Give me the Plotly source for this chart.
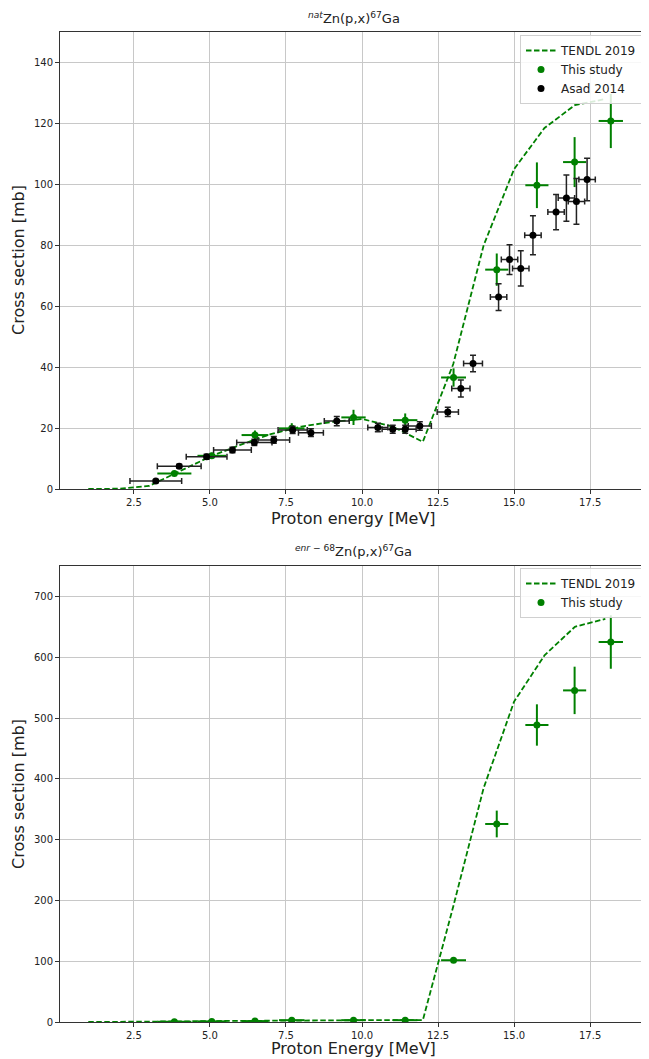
import plotly.graph_objects as go

# ---------------- data ----------------
tendl_E = [1, 2, 3, 4, 5, 6, 7, 8, 9, 10, 11, 12, 13, 14, 15, 16, 17, 18]
tendl_nat = [0, 0.1, 1.0, 5.8, 10.6, 14.5, 18.0, 20.5, 22.0, 23.0, 20.5, 15.5, 41.0, 80.0, 105.0, 118.5, 126.0, 128.0]
tendl_enr = [0, 0, 0.5, 1.0, 1.5, 2.0, 2.5, 3.0, 3.0, 3.0, 3.0, 3.0, 190.0, 385.0, 527.0, 603.0, 650.0, 663.0]

study_E = [3.83, 5.06, 6.48, 7.69, 9.72, 11.42, 13.01, 14.43, 15.75, 16.99, 18.18]
study_Eerr = [0.56, 0.47, 0.44, 0.42, 0.40, 0.40, 0.41, 0.38, 0.38, 0.38, 0.40]
study_nat = [5.1, 10.9, 17.7, 19.9, 23.5, 22.6, 36.6, 72.0, 99.7, 107.3, 120.8]
study_nat_err = [0.6, 1.0, 1.5, 1.7, 2.5, 2.2, 3.0, 5.3, 7.5, 8.2, 8.9]
study_enr = [0.5, 1.0, 1.5, 3.0, 3.0, 3.0, 101.6, 325.7, 488.5, 545.4, 625.0]
study_enr_err = [0.2, 0.4, 0.5, 0.8, 1.0, 1.0, 4.0, 22.0, 34.0, 39.0, 44.0]

asad_E = [3.22, 3.99, 4.89, 5.74, 6.46, 7.10, 7.72, 8.32, 9.17, 10.52, 11.01, 11.42, 11.90,
          12.82, 13.25, 13.65, 14.49, 14.85, 15.22, 15.62, 16.38, 16.72, 17.05, 17.40]
asad_Eerr = [0.85, 0.72, 0.67, 0.62, 0.58, 0.52, 0.48, 0.41, 0.41, 0.33, 0.35, 0.36, 0.38,
             0.35, 0.30, 0.31, 0.27, 0.27, 0.27, 0.27, 0.27, 0.27, 0.27, 0.27]
asad_xs = [2.6, 7.5, 10.6, 12.8, 15.3, 16.1, 19.4, 18.5, 22.3, 20.2, 19.6, 19.6, 20.7,
           25.3, 33.0, 41.2, 63.0, 75.3, 72.4, 83.3, 90.9, 95.5, 94.4, 101.6]
asad_xs_err = [0.5, 0.6, 0.8, 0.9, 1.0, 1.1, 1.2, 1.3, 1.5, 1.4, 1.3, 1.3, 1.4,
               1.5, 2.8, 2.7, 4.4, 4.9, 5.8, 6.4, 5.8, 7.6, 7.5, 7.0]

x_ticks = [2.5, 5.0, 7.5, 10.0, 12.5, 15.0, 17.5]
y_ticks_nat = [0, 20, 40, 60, 80, 100, 120, 140]
y_ticks_enr = [0, 100, 200, 300, 400, 500, 600, 700]

GREEN = "#008000"
FONT = "DejaVu Sans"
DASH = "5.5px,2.5px"

fig = go.Figure()

# ---- top panel ----
fig.add_trace(go.Scatter(x=tendl_E, y=tendl_nat, mode="lines", name="TENDL 2019",
                         line=dict(color=GREEN, dash=DASH, width=1.8),
                         xaxis="x", yaxis="y", legend="legend"))
fig.add_trace(go.Scatter(x=study_E, y=study_nat, mode="markers", name="This study",
                         marker=dict(color=GREEN, size=7, symbol="circle"),
                         error_x=dict(type="data", array=study_Eerr, color=GREEN, thickness=2, width=0),
                         error_y=dict(type="data", array=study_nat_err, color=GREEN, thickness=2, width=0),
                         xaxis="x", yaxis="y", legend="legend"))
fig.add_trace(go.Scatter(x=asad_E, y=asad_xs, mode="markers", name="Asad 2014",
                         marker=dict(color="black", size=7, symbol="circle"),
                         error_x=dict(type="data", array=asad_Eerr, color="#222222", thickness=1.5, width=3),
                         error_y=dict(type="data", array=asad_xs_err, color="#222222", thickness=1.5, width=3),
                         xaxis="x", yaxis="y", legend="legend"))

# ---- bottom panel ----
fig.add_trace(go.Scatter(x=tendl_E, y=tendl_enr, mode="lines", name="TENDL 2019",
                         line=dict(color=GREEN, dash=DASH, width=1.8),
                         xaxis="x2", yaxis="y2", legend="legend2"))
fig.add_trace(go.Scatter(x=study_E, y=study_enr, mode="markers", name="This study",
                         marker=dict(color=GREEN, size=7, symbol="circle"),
                         error_x=dict(type="data", array=study_Eerr, color=GREEN, thickness=2, width=0),
                         error_y=dict(type="data", array=study_enr_err, color=GREEN, thickness=2, width=0),
                         xaxis="x2", yaxis="y2", legend="legend2"))

# page offset (browser default body margin) compensation
OFF = 8
W, H = 649 - OFF, 1059 - OFF
def fx(px):
    return (px - OFF) / W
def fy(px):
    return 1 - (px - OFF) / H

xdom = [fx(60), fx(647)]
axis_common = dict(showgrid=True, gridcolor="#c8c8c8", gridwidth=1, automargin=False,
                   showline=True, linecolor="#333333", linewidth=1, mirror=True,
                   ticks="outside", ticklen=4, tickcolor="#333333",
                   tickfont=dict(family=FONT, size=10, color="#222222"), zeroline=False)

legend_common = dict(xanchor="right", yanchor="top",
                     bgcolor="rgba(255,255,255,0.85)", bordercolor="#d0d0d0", borderwidth=1,
                     font=dict(family=FONT, size=12, color="#222222"), tracegroupgap=0,
                     itemwidth=30)

fig.update_layout(
    width=W, height=H, autosize=False, margin=dict(l=0, r=0, t=0, b=0, autoexpand=False),
    paper_bgcolor="white", plot_bgcolor="white",
    font=dict(family=FONT, color="#222222"),
    xaxis=dict(domain=xdom, anchor="y", range=[0.07, 19.37], tickvals=x_ticks,
               tickformat=".1f", **axis_common),
    yaxis=dict(domain=[fy(489), fy(32)], anchor="x", range=[0, 150], tickvals=y_ticks_nat, **axis_common),
    xaxis2=dict(domain=xdom, anchor="y2", range=[0.07, 19.37], tickvals=x_ticks,
                tickformat=".1f", **axis_common),
    yaxis2=dict(domain=[fy(1022), fy(566)], anchor="x2", range=[0, 750], tickvals=y_ticks_enr, **axis_common),
    legend=dict(x=fx(643), y=fy(35), **legend_common),
    legend2=dict(x=fx(643), y=fy(568), **legend_common),
    showlegend=True,
)

cx = fx((60 + 647) / 2)
ann = [
    dict(text="<sup><i>nat</i></sup>Zn(p,x)<sup>67</sup>Ga", x=cx, y=fy(18), font=dict(size=13)),
    dict(text="Proton energy [MeV]", x=cx, y=fy(519), font=dict(size=16)),
    dict(text="Cross section [mb]", x=fx(18), y=fy(260), font=dict(size=16), textangle=-90),
    dict(text="<sup><i>enr</i> − 68</sup>Zn(p,x)<sup>67</sup>Ga", x=cx, y=fy(551), font=dict(size=13)),
    dict(text="Proton Energy [MeV]", x=cx, y=fy(1048), font=dict(size=16)),
    dict(text="Cross section [mb]", x=fx(18), y=fy(794), font=dict(size=16), textangle=-90),
]
for a in ann:
    fig.add_annotation(xref="paper", yref="paper", showarrow=False, xanchor="center", yanchor="middle",
                       font_family=FONT, font_color="#222222", **a)

fig.write_html("out.html")
